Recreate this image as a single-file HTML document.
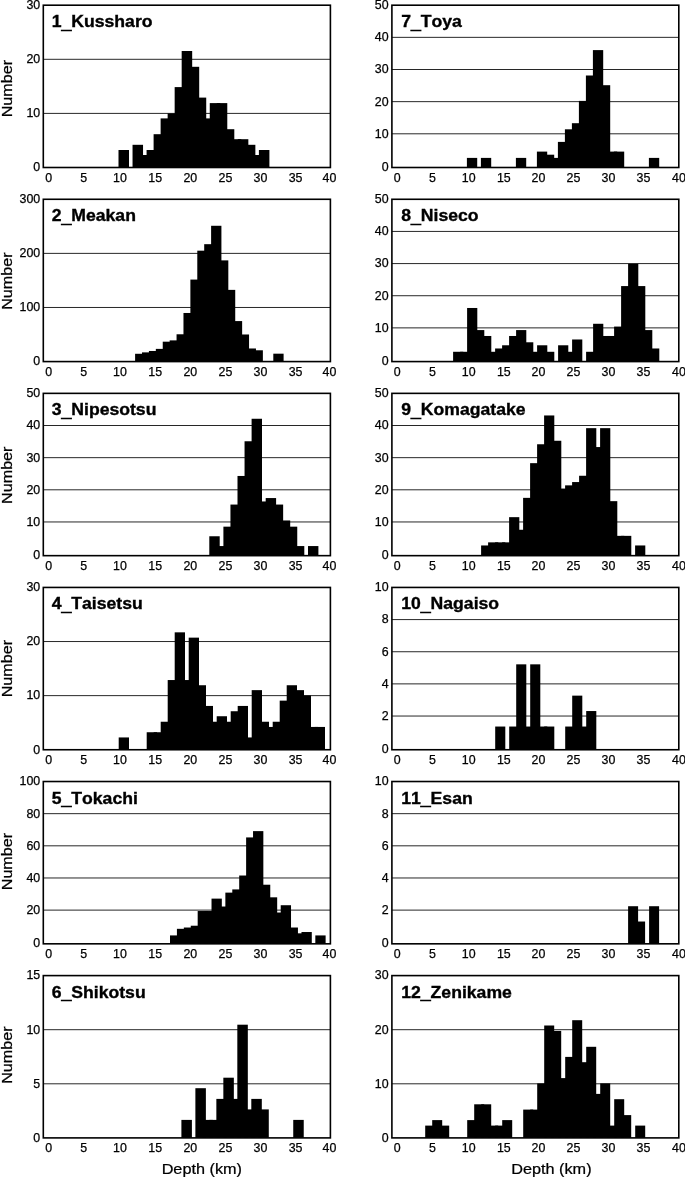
<!DOCTYPE html>
<html lang="en"><head><meta charset="utf-8"><title>Depth histograms</title>
<style>html,body{margin:0;padding:0;background:#fff;overflow:hidden}svg{display:block}text{font-family:"Liberation Sans",sans-serif;fill:#000;font-kerning:none;stroke:#000;stroke-width:0.25px}.t{font-size:12.4px}.ti{font-size:16.65px;font-weight:bold;stroke-width:0.35px}.l{font-size:15.6px}.f{fill:none;stroke:#000;stroke-width:1.6}.g{stroke:#000;stroke-width:0.85}</style></head><body>
<svg width="685" height="1178" viewBox="0 0 685 1178">
<rect width="685" height="1178" fill="#fff"/>
<g>
<line class="g" x1="43.30" x2="330.40" y1="113.40" y2="113.40"/>
<line class="g" x1="43.30" x2="330.40" y1="59.30" y2="59.30"/>
<rect x="118.50" y="150.00" width="10.50" height="17.50"/>
<rect x="132.54" y="144.80" width="10.50" height="22.70"/>
<rect x="139.56" y="155.00" width="10.50" height="12.50"/>
<rect x="146.58" y="150.00" width="10.50" height="17.50"/>
<rect x="153.60" y="134.20" width="10.50" height="33.30"/>
<rect x="160.62" y="118.40" width="10.50" height="49.10"/>
<rect x="167.64" y="113.40" width="10.50" height="54.10"/>
<rect x="174.66" y="87.10" width="10.50" height="80.40"/>
<rect x="181.68" y="51.00" width="10.50" height="116.50"/>
<rect x="188.70" y="66.80" width="10.50" height="100.70"/>
<rect x="195.72" y="97.60" width="10.50" height="69.90"/>
<rect x="202.74" y="118.40" width="10.50" height="49.10"/>
<rect x="209.76" y="103.10" width="10.50" height="64.40"/>
<rect x="216.78" y="103.10" width="10.50" height="64.40"/>
<rect x="223.80" y="129.20" width="10.50" height="38.30"/>
<rect x="230.82" y="139.20" width="10.50" height="28.30"/>
<rect x="237.84" y="139.20" width="10.50" height="28.30"/>
<rect x="244.86" y="144.80" width="10.50" height="22.70"/>
<rect x="251.88" y="155.00" width="10.50" height="12.50"/>
<rect x="258.90" y="150.00" width="10.50" height="17.50"/>
<rect class="f" x="43.30" y="5.20" width="287.10" height="162.30"/>
<text class="t" text-anchor="end" x="40.20" y="171.35">0</text>
<text class="t" text-anchor="end" x="40.20" y="117.25">10</text>
<text class="t" text-anchor="end" x="40.20" y="63.15">20</text>
<text class="t" text-anchor="end" x="40.20" y="9.05">30</text>
<text class="t" text-anchor="middle" x="48.60" y="181.80">0</text>
<text class="t" text-anchor="middle" x="83.70" y="181.80">5</text>
<text class="t" text-anchor="middle" x="120.00" y="181.80">10</text>
<text class="t" text-anchor="middle" x="155.20" y="181.80">15</text>
<text class="t" text-anchor="middle" x="190.30" y="181.80">20</text>
<text class="t" text-anchor="middle" x="225.40" y="181.80">25</text>
<text class="t" text-anchor="middle" x="260.50" y="181.80">30</text>
<text class="t" text-anchor="middle" x="295.60" y="181.80">35</text>
<text class="t" text-anchor="middle" x="329.40" y="181.80">40</text>
<text class="ti" transform="translate(51.70 27.20) scale(1.059 1)">1<tspan dy="1.4" style="stroke-width:0.9px">_</tspan><tspan dy="-1.4">Kussharo</tspan></text>
<text class="l" style="font-size:15.2px" text-anchor="middle" transform="translate(12.1 88.65) rotate(-90) scale(1.062 1)">Number</text>
</g>
<g>
<line class="g" x1="43.30" x2="330.40" y1="307.48" y2="307.48"/>
<line class="g" x1="43.30" x2="330.40" y1="253.38" y2="253.38"/>
<rect x="135.10" y="353.78" width="10.30" height="7.80"/>
<rect x="142.01" y="352.38" width="10.30" height="9.20"/>
<rect x="148.92" y="350.98" width="10.30" height="10.60"/>
<rect x="155.83" y="348.88" width="10.30" height="12.70"/>
<rect x="162.74" y="341.68" width="10.30" height="19.90"/>
<rect x="169.65" y="340.38" width="10.30" height="21.20"/>
<rect x="176.56" y="334.28" width="10.30" height="27.30"/>
<rect x="183.47" y="312.98" width="10.30" height="48.60"/>
<rect x="190.38" y="279.58" width="10.30" height="82.00"/>
<rect x="197.29" y="250.68" width="10.30" height="110.90"/>
<rect x="204.20" y="244.18" width="10.30" height="117.40"/>
<rect x="211.11" y="225.78" width="10.30" height="135.80"/>
<rect x="218.02" y="260.38" width="10.30" height="101.20"/>
<rect x="224.93" y="289.88" width="10.30" height="71.70"/>
<rect x="231.84" y="321.08" width="10.30" height="40.50"/>
<rect x="238.75" y="334.48" width="10.30" height="27.10"/>
<rect x="245.66" y="348.48" width="10.30" height="13.10"/>
<rect x="252.57" y="350.28" width="10.30" height="11.30"/>
<rect x="273.30" y="353.68" width="10.30" height="7.90"/>
<rect class="f" x="43.30" y="199.28" width="287.10" height="162.30"/>
<text class="t" text-anchor="end" x="40.20" y="365.43">0</text>
<text class="t" text-anchor="end" x="40.20" y="311.33">100</text>
<text class="t" text-anchor="end" x="40.20" y="257.23">200</text>
<text class="t" text-anchor="end" x="40.20" y="203.13">300</text>
<text class="t" text-anchor="middle" x="48.60" y="375.88">0</text>
<text class="t" text-anchor="middle" x="83.70" y="375.88">5</text>
<text class="t" text-anchor="middle" x="120.00" y="375.88">10</text>
<text class="t" text-anchor="middle" x="155.20" y="375.88">15</text>
<text class="t" text-anchor="middle" x="190.30" y="375.88">20</text>
<text class="t" text-anchor="middle" x="225.40" y="375.88">25</text>
<text class="t" text-anchor="middle" x="260.50" y="375.88">30</text>
<text class="t" text-anchor="middle" x="295.60" y="375.88">35</text>
<text class="t" text-anchor="middle" x="329.40" y="375.88">40</text>
<text class="ti" transform="translate(51.70 221.28) scale(1.059 1)">2<tspan dy="1.4" style="stroke-width:0.9px">_</tspan><tspan dy="-1.4">Meakan</tspan></text>
<text class="l" style="font-size:15.2px" text-anchor="middle" transform="translate(12.1 281.13) rotate(-90) scale(1.062 1)">Number</text>
</g>
<g>
<line class="g" x1="43.30" x2="330.40" y1="521.96" y2="521.96"/>
<line class="g" x1="43.30" x2="330.40" y1="489.81" y2="489.81"/>
<line class="g" x1="43.30" x2="330.40" y1="457.66" y2="457.66"/>
<line class="g" x1="43.30" x2="330.40" y1="425.51" y2="425.51"/>
<rect x="209.30" y="536.26" width="10.40" height="19.40"/>
<rect x="216.35" y="546.06" width="10.40" height="9.60"/>
<rect x="223.40" y="526.66" width="10.40" height="29.00"/>
<rect x="230.45" y="504.56" width="10.40" height="51.10"/>
<rect x="237.50" y="475.96" width="10.40" height="79.70"/>
<rect x="244.55" y="441.26" width="10.40" height="114.40"/>
<rect x="251.60" y="418.76" width="10.40" height="136.90"/>
<rect x="258.65" y="501.46" width="10.40" height="54.20"/>
<rect x="265.70" y="498.06" width="10.40" height="57.60"/>
<rect x="272.75" y="504.56" width="10.40" height="51.10"/>
<rect x="279.80" y="520.46" width="10.40" height="35.20"/>
<rect x="286.85" y="526.66" width="10.40" height="29.00"/>
<rect x="293.90" y="546.06" width="10.40" height="9.60"/>
<rect x="308.00" y="546.06" width="10.40" height="9.60"/>
<rect class="f" x="43.30" y="393.36" width="287.10" height="162.30"/>
<text class="t" text-anchor="end" x="40.20" y="558.91">0</text>
<text class="t" text-anchor="end" x="40.20" y="525.81">10</text>
<text class="t" text-anchor="end" x="40.20" y="493.66">20</text>
<text class="t" text-anchor="end" x="40.20" y="461.51">30</text>
<text class="t" text-anchor="end" x="40.20" y="429.36">40</text>
<text class="t" text-anchor="end" x="40.20" y="397.21">50</text>
<text class="t" text-anchor="middle" x="48.60" y="569.96">0</text>
<text class="t" text-anchor="middle" x="83.70" y="569.96">5</text>
<text class="t" text-anchor="middle" x="120.00" y="569.96">10</text>
<text class="t" text-anchor="middle" x="155.20" y="569.96">15</text>
<text class="t" text-anchor="middle" x="190.30" y="569.96">20</text>
<text class="t" text-anchor="middle" x="225.40" y="569.96">25</text>
<text class="t" text-anchor="middle" x="260.50" y="569.96">30</text>
<text class="t" text-anchor="middle" x="295.60" y="569.96">35</text>
<text class="t" text-anchor="middle" x="329.40" y="569.96">40</text>
<text class="ti" transform="translate(51.70 415.36) scale(1.059 1)">3<tspan dy="1.4" style="stroke-width:0.9px">_</tspan><tspan dy="-1.4">Nipesotsu</tspan></text>
<text class="l" style="font-size:15.2px" text-anchor="middle" transform="translate(12.1 475.21) rotate(-90) scale(1.062 1)">Number</text>
</g>
<g>
<line class="g" x1="43.30" x2="330.40" y1="695.64" y2="695.64"/>
<line class="g" x1="43.30" x2="330.40" y1="641.54" y2="641.54"/>
<rect x="118.70" y="737.44" width="10.30" height="12.30"/>
<rect x="146.70" y="732.24" width="10.30" height="17.50"/>
<rect x="153.70" y="732.24" width="10.30" height="17.50"/>
<rect x="160.70" y="721.74" width="10.30" height="28.00"/>
<rect x="167.70" y="680.04" width="10.30" height="69.70"/>
<rect x="174.70" y="632.34" width="10.30" height="117.40"/>
<rect x="181.70" y="680.04" width="10.30" height="69.70"/>
<rect x="188.70" y="637.64" width="10.30" height="112.10"/>
<rect x="195.70" y="685.24" width="10.30" height="64.50"/>
<rect x="202.70" y="705.94" width="10.30" height="43.80"/>
<rect x="209.70" y="721.74" width="10.30" height="28.00"/>
<rect x="216.70" y="716.24" width="10.30" height="33.50"/>
<rect x="223.70" y="721.74" width="10.30" height="28.00"/>
<rect x="230.70" y="711.24" width="10.30" height="38.50"/>
<rect x="237.70" y="705.94" width="10.30" height="43.80"/>
<rect x="244.70" y="737.44" width="10.30" height="12.30"/>
<rect x="251.70" y="690.14" width="10.30" height="59.60"/>
<rect x="258.70" y="721.74" width="10.30" height="28.00"/>
<rect x="265.70" y="726.94" width="10.30" height="22.80"/>
<rect x="272.70" y="721.74" width="10.30" height="28.00"/>
<rect x="279.70" y="700.64" width="10.30" height="49.10"/>
<rect x="286.70" y="685.24" width="10.30" height="64.50"/>
<rect x="293.70" y="690.14" width="10.30" height="59.60"/>
<rect x="300.70" y="695.44" width="10.30" height="54.30"/>
<rect x="307.70" y="726.94" width="10.30" height="22.80"/>
<rect x="314.70" y="726.94" width="10.30" height="22.80"/>
<rect class="f" x="43.30" y="587.44" width="287.10" height="162.30"/>
<text class="t" text-anchor="end" x="40.20" y="753.59">0</text>
<text class="t" text-anchor="end" x="40.20" y="699.49">10</text>
<text class="t" text-anchor="end" x="40.20" y="645.39">20</text>
<text class="t" text-anchor="end" x="40.20" y="591.29">30</text>
<text class="t" text-anchor="middle" x="48.60" y="764.04">0</text>
<text class="t" text-anchor="middle" x="83.70" y="764.04">5</text>
<text class="t" text-anchor="middle" x="120.00" y="764.04">10</text>
<text class="t" text-anchor="middle" x="155.20" y="764.04">15</text>
<text class="t" text-anchor="middle" x="190.30" y="764.04">20</text>
<text class="t" text-anchor="middle" x="225.40" y="764.04">25</text>
<text class="t" text-anchor="middle" x="260.50" y="764.04">30</text>
<text class="t" text-anchor="middle" x="295.60" y="764.04">35</text>
<text class="t" text-anchor="middle" x="329.40" y="764.04">40</text>
<text class="ti" transform="translate(51.70 609.44) scale(1.059 1)">4<tspan dy="1.4" style="stroke-width:0.9px">_</tspan><tspan dy="-1.4">Taisetsu</tspan></text>
<text class="l" style="font-size:15.2px" text-anchor="middle" transform="translate(12.1 668.64) rotate(-90) scale(1.062 1)">Number</text>
</g>
<g>
<line class="g" x1="43.30" x2="330.40" y1="910.12" y2="910.12"/>
<line class="g" x1="43.30" x2="330.40" y1="877.97" y2="877.97"/>
<line class="g" x1="43.30" x2="330.40" y1="845.82" y2="845.82"/>
<line class="g" x1="43.30" x2="330.40" y1="813.67" y2="813.67"/>
<rect x="170.00" y="935.42" width="10.30" height="8.40"/>
<rect x="176.92" y="928.82" width="10.30" height="15.00"/>
<rect x="183.84" y="927.52" width="10.30" height="16.30"/>
<rect x="190.76" y="925.72" width="10.30" height="18.10"/>
<rect x="197.68" y="911.02" width="10.30" height="32.80"/>
<rect x="204.60" y="911.02" width="10.30" height="32.80"/>
<rect x="211.52" y="898.62" width="10.30" height="45.20"/>
<rect x="218.44" y="906.52" width="10.30" height="37.30"/>
<rect x="225.36" y="892.62" width="10.30" height="51.20"/>
<rect x="232.28" y="889.42" width="10.30" height="54.40"/>
<rect x="239.20" y="875.52" width="10.30" height="68.30"/>
<rect x="246.12" y="837.42" width="10.30" height="106.40"/>
<rect x="253.04" y="831.12" width="10.30" height="112.70"/>
<rect x="259.96" y="884.72" width="10.30" height="59.10"/>
<rect x="266.88" y="897.32" width="10.30" height="46.50"/>
<rect x="273.80" y="912.52" width="10.30" height="31.30"/>
<rect x="280.72" y="905.22" width="10.30" height="38.60"/>
<rect x="287.64" y="927.52" width="10.30" height="16.30"/>
<rect x="294.56" y="933.32" width="10.30" height="10.50"/>
<rect x="301.48" y="932.02" width="10.30" height="11.80"/>
<rect x="315.32" y="935.42" width="10.30" height="8.40"/>
<rect class="f" x="43.30" y="781.52" width="287.10" height="162.30"/>
<text class="t" text-anchor="end" x="40.20" y="947.07">0</text>
<text class="t" text-anchor="end" x="40.20" y="913.97">20</text>
<text class="t" text-anchor="end" x="40.20" y="881.82">40</text>
<text class="t" text-anchor="end" x="40.20" y="849.67">60</text>
<text class="t" text-anchor="end" x="40.20" y="817.52">80</text>
<text class="t" text-anchor="end" x="40.20" y="785.37">100</text>
<text class="t" text-anchor="middle" x="48.60" y="958.12">0</text>
<text class="t" text-anchor="middle" x="83.70" y="958.12">5</text>
<text class="t" text-anchor="middle" x="120.00" y="958.12">10</text>
<text class="t" text-anchor="middle" x="155.20" y="958.12">15</text>
<text class="t" text-anchor="middle" x="190.30" y="958.12">20</text>
<text class="t" text-anchor="middle" x="225.40" y="958.12">25</text>
<text class="t" text-anchor="middle" x="260.50" y="958.12">30</text>
<text class="t" text-anchor="middle" x="295.60" y="958.12">35</text>
<text class="t" text-anchor="middle" x="329.40" y="958.12">40</text>
<text class="ti" transform="translate(51.70 803.52) scale(1.059 1)">5<tspan dy="1.4" style="stroke-width:0.9px">_</tspan><tspan dy="-1.4">Tokachi</tspan></text>
<text class="l" style="font-size:15.2px" text-anchor="middle" transform="translate(12.1 861.57) rotate(-90) scale(1.062 1)">Number</text>
</g>
<g>
<line class="g" x1="43.30" x2="330.40" y1="1083.80" y2="1083.80"/>
<line class="g" x1="43.30" x2="330.40" y1="1029.70" y2="1029.70"/>
<rect x="181.40" y="1119.90" width="10.50" height="18.00"/>
<rect x="195.38" y="1088.20" width="10.50" height="49.70"/>
<rect x="202.37" y="1119.90" width="10.50" height="18.00"/>
<rect x="209.36" y="1119.90" width="10.50" height="18.00"/>
<rect x="216.35" y="1098.90" width="10.50" height="39.00"/>
<rect x="223.34" y="1077.70" width="10.50" height="60.20"/>
<rect x="230.33" y="1098.90" width="10.50" height="39.00"/>
<rect x="237.32" y="1024.70" width="10.50" height="113.20"/>
<rect x="244.31" y="1109.40" width="10.50" height="28.50"/>
<rect x="251.30" y="1098.90" width="10.50" height="39.00"/>
<rect x="258.29" y="1109.40" width="10.50" height="28.50"/>
<rect x="293.24" y="1119.90" width="10.50" height="18.00"/>
<rect class="f" x="43.30" y="975.60" width="287.10" height="162.30"/>
<text class="t" text-anchor="end" x="40.20" y="1141.75">0</text>
<text class="t" text-anchor="end" x="40.20" y="1087.65">5</text>
<text class="t" text-anchor="end" x="40.20" y="1033.55">10</text>
<text class="t" text-anchor="end" x="40.20" y="979.45">15</text>
<text class="t" text-anchor="middle" x="48.60" y="1152.20">0</text>
<text class="t" text-anchor="middle" x="83.70" y="1152.20">5</text>
<text class="t" text-anchor="middle" x="120.00" y="1152.20">10</text>
<text class="t" text-anchor="middle" x="155.20" y="1152.20">15</text>
<text class="t" text-anchor="middle" x="190.30" y="1152.20">20</text>
<text class="t" text-anchor="middle" x="225.40" y="1152.20">25</text>
<text class="t" text-anchor="middle" x="260.50" y="1152.20">30</text>
<text class="t" text-anchor="middle" x="295.60" y="1152.20">35</text>
<text class="t" text-anchor="middle" x="329.40" y="1152.20">40</text>
<text class="ti" transform="translate(51.70 997.60) scale(1.059 1)">6<tspan dy="1.4" style="stroke-width:0.9px">_</tspan><tspan dy="-1.4">Shikotsu</tspan></text>
<text class="l" style="font-size:15.2px" text-anchor="middle" transform="translate(12.1 1055.10) rotate(-90) scale(1.062 1)">Number</text>
<text class="l" style="font-size:15.3px" text-anchor="middle" transform="translate(201.80 1174.0) scale(1.063 1)">Depth (km)</text>
</g>
<g>
<line class="g" x1="391.90" x2="678.80" y1="133.80" y2="133.80"/>
<line class="g" x1="391.90" x2="678.80" y1="101.65" y2="101.65"/>
<line class="g" x1="391.90" x2="678.80" y1="69.50" y2="69.50"/>
<line class="g" x1="391.90" x2="678.80" y1="37.35" y2="37.35"/>
<rect x="466.90" y="157.90" width="10.30" height="9.60"/>
<rect x="480.90" y="157.90" width="10.30" height="9.60"/>
<rect x="515.90" y="157.90" width="10.30" height="9.60"/>
<rect x="536.90" y="151.60" width="10.30" height="15.90"/>
<rect x="543.90" y="154.70" width="10.30" height="12.80"/>
<rect x="550.90" y="157.90" width="10.30" height="9.60"/>
<rect x="557.90" y="141.90" width="10.30" height="25.60"/>
<rect x="564.90" y="129.30" width="10.30" height="38.20"/>
<rect x="571.90" y="123.20" width="10.30" height="44.30"/>
<rect x="578.90" y="100.90" width="10.30" height="66.60"/>
<rect x="585.90" y="75.50" width="10.30" height="92.00"/>
<rect x="592.90" y="50.10" width="10.30" height="117.40"/>
<rect x="599.90" y="85.20" width="10.30" height="82.30"/>
<rect x="606.90" y="151.60" width="10.30" height="15.90"/>
<rect x="613.90" y="151.60" width="10.30" height="15.90"/>
<rect x="648.90" y="157.90" width="10.30" height="9.60"/>
<rect class="f" x="391.90" y="5.20" width="286.90" height="162.30"/>
<text class="t" text-anchor="end" x="388.60" y="170.75">0</text>
<text class="t" text-anchor="end" x="388.60" y="137.65">10</text>
<text class="t" text-anchor="end" x="388.60" y="105.50">20</text>
<text class="t" text-anchor="end" x="388.60" y="73.35">30</text>
<text class="t" text-anchor="end" x="388.60" y="41.20">40</text>
<text class="t" text-anchor="end" x="388.60" y="9.05">50</text>
<text class="t" text-anchor="middle" x="397.30" y="181.80">0</text>
<text class="t" text-anchor="middle" x="432.40" y="181.80">5</text>
<text class="t" text-anchor="middle" x="468.70" y="181.80">10</text>
<text class="t" text-anchor="middle" x="503.80" y="181.80">15</text>
<text class="t" text-anchor="middle" x="538.50" y="181.80">20</text>
<text class="t" text-anchor="middle" x="573.50" y="181.80">25</text>
<text class="t" text-anchor="middle" x="608.40" y="181.80">30</text>
<text class="t" text-anchor="middle" x="643.50" y="181.80">35</text>
<text class="t" text-anchor="middle" x="679.00" y="181.80">40</text>
<text class="ti" transform="translate(401.20 27.20) scale(1.059 1)">7<tspan dy="1.4" style="stroke-width:0.9px">_</tspan><tspan dy="-1.4">Toya</tspan></text>
</g>
<g>
<line class="g" x1="391.90" x2="678.80" y1="327.88" y2="327.88"/>
<line class="g" x1="391.90" x2="678.80" y1="295.73" y2="295.73"/>
<line class="g" x1="391.90" x2="678.80" y1="263.58" y2="263.58"/>
<line class="g" x1="391.90" x2="678.80" y1="231.43" y2="231.43"/>
<rect x="453.10" y="351.78" width="10.20" height="9.80"/>
<rect x="460.10" y="351.78" width="10.20" height="9.80"/>
<rect x="467.10" y="307.98" width="10.20" height="53.60"/>
<rect x="474.10" y="330.08" width="10.20" height="31.50"/>
<rect x="481.10" y="335.98" width="10.20" height="25.60"/>
<rect x="488.10" y="351.78" width="10.20" height="9.80"/>
<rect x="495.10" y="348.48" width="10.20" height="13.10"/>
<rect x="502.10" y="345.28" width="10.20" height="16.30"/>
<rect x="509.10" y="335.98" width="10.20" height="25.60"/>
<rect x="516.10" y="330.08" width="10.20" height="31.50"/>
<rect x="523.10" y="342.28" width="10.20" height="19.30"/>
<rect x="530.10" y="351.78" width="10.20" height="9.80"/>
<rect x="537.10" y="345.28" width="10.20" height="16.30"/>
<rect x="544.10" y="351.78" width="10.20" height="9.80"/>
<rect x="558.10" y="345.28" width="10.20" height="16.30"/>
<rect x="565.10" y="351.78" width="10.20" height="9.80"/>
<rect x="572.10" y="339.48" width="10.20" height="22.10"/>
<rect x="586.10" y="351.78" width="10.20" height="9.80"/>
<rect x="593.10" y="323.78" width="10.20" height="37.80"/>
<rect x="600.10" y="335.98" width="10.20" height="25.60"/>
<rect x="607.10" y="335.98" width="10.20" height="25.60"/>
<rect x="614.10" y="326.58" width="10.20" height="35.00"/>
<rect x="621.10" y="286.08" width="10.20" height="75.50"/>
<rect x="628.10" y="263.78" width="10.20" height="97.80"/>
<rect x="635.10" y="286.08" width="10.20" height="75.50"/>
<rect x="642.10" y="330.08" width="10.20" height="31.50"/>
<rect x="649.10" y="348.48" width="10.20" height="13.10"/>
<rect class="f" x="391.90" y="199.28" width="286.90" height="162.30"/>
<text class="t" text-anchor="end" x="388.60" y="364.83">0</text>
<text class="t" text-anchor="end" x="388.60" y="331.73">10</text>
<text class="t" text-anchor="end" x="388.60" y="299.58">20</text>
<text class="t" text-anchor="end" x="388.60" y="267.43">30</text>
<text class="t" text-anchor="end" x="388.60" y="235.28">40</text>
<text class="t" text-anchor="end" x="388.60" y="203.13">50</text>
<text class="t" text-anchor="middle" x="397.30" y="375.88">0</text>
<text class="t" text-anchor="middle" x="432.40" y="375.88">5</text>
<text class="t" text-anchor="middle" x="468.70" y="375.88">10</text>
<text class="t" text-anchor="middle" x="503.80" y="375.88">15</text>
<text class="t" text-anchor="middle" x="538.50" y="375.88">20</text>
<text class="t" text-anchor="middle" x="573.50" y="375.88">25</text>
<text class="t" text-anchor="middle" x="608.40" y="375.88">30</text>
<text class="t" text-anchor="middle" x="643.50" y="375.88">35</text>
<text class="t" text-anchor="middle" x="679.00" y="375.88">40</text>
<text class="ti" transform="translate(401.20 221.28) scale(1.059 1)">8<tspan dy="1.4" style="stroke-width:0.9px">_</tspan><tspan dy="-1.4">Niseco</tspan></text>
</g>
<g>
<line class="g" x1="391.90" x2="678.80" y1="521.96" y2="521.96"/>
<line class="g" x1="391.90" x2="678.80" y1="489.81" y2="489.81"/>
<line class="g" x1="391.90" x2="678.80" y1="457.66" y2="457.66"/>
<line class="g" x1="391.90" x2="678.80" y1="425.51" y2="425.51"/>
<rect x="481.10" y="545.46" width="10.20" height="10.20"/>
<rect x="488.10" y="542.36" width="10.20" height="13.30"/>
<rect x="495.10" y="542.36" width="10.20" height="13.30"/>
<rect x="502.10" y="542.36" width="10.20" height="13.30"/>
<rect x="509.10" y="517.16" width="10.20" height="38.50"/>
<rect x="516.10" y="529.76" width="10.20" height="25.90"/>
<rect x="523.10" y="497.86" width="10.20" height="57.80"/>
<rect x="530.10" y="463.16" width="10.20" height="92.50"/>
<rect x="537.10" y="444.26" width="10.20" height="111.40"/>
<rect x="544.10" y="415.46" width="10.20" height="140.20"/>
<rect x="551.10" y="440.76" width="10.20" height="114.90"/>
<rect x="558.10" y="488.56" width="10.20" height="67.10"/>
<rect x="565.10" y="485.36" width="10.20" height="70.30"/>
<rect x="572.10" y="482.06" width="10.20" height="73.60"/>
<rect x="579.10" y="475.76" width="10.20" height="79.90"/>
<rect x="586.10" y="428.16" width="10.20" height="127.50"/>
<rect x="593.10" y="447.06" width="10.20" height="108.60"/>
<rect x="600.10" y="428.16" width="10.20" height="127.50"/>
<rect x="607.10" y="501.16" width="10.20" height="54.50"/>
<rect x="614.10" y="535.86" width="10.20" height="19.80"/>
<rect x="621.10" y="535.86" width="10.20" height="19.80"/>
<rect x="635.10" y="545.46" width="10.20" height="10.20"/>
<rect class="f" x="391.90" y="393.36" width="286.90" height="162.30"/>
<text class="t" text-anchor="end" x="388.60" y="558.91">0</text>
<text class="t" text-anchor="end" x="388.60" y="525.81">10</text>
<text class="t" text-anchor="end" x="388.60" y="493.66">20</text>
<text class="t" text-anchor="end" x="388.60" y="461.51">30</text>
<text class="t" text-anchor="end" x="388.60" y="429.36">40</text>
<text class="t" text-anchor="end" x="388.60" y="397.21">50</text>
<text class="t" text-anchor="middle" x="397.30" y="569.96">0</text>
<text class="t" text-anchor="middle" x="432.40" y="569.96">5</text>
<text class="t" text-anchor="middle" x="468.70" y="569.96">10</text>
<text class="t" text-anchor="middle" x="503.80" y="569.96">15</text>
<text class="t" text-anchor="middle" x="538.50" y="569.96">20</text>
<text class="t" text-anchor="middle" x="573.50" y="569.96">25</text>
<text class="t" text-anchor="middle" x="608.40" y="569.96">30</text>
<text class="t" text-anchor="middle" x="643.50" y="569.96">35</text>
<text class="t" text-anchor="middle" x="679.00" y="569.96">40</text>
<text class="ti" transform="translate(401.20 415.36) scale(1.059 1)">9<tspan dy="1.4" style="stroke-width:0.9px">_</tspan><tspan dy="-1.4">Komagatake</tspan></text>
</g>
<g>
<line class="g" x1="391.90" x2="678.80" y1="716.04" y2="716.04"/>
<line class="g" x1="391.90" x2="678.80" y1="683.89" y2="683.89"/>
<line class="g" x1="391.90" x2="678.80" y1="651.74" y2="651.74"/>
<line class="g" x1="391.90" x2="678.80" y1="619.59" y2="619.59"/>
<rect x="495.20" y="726.54" width="10.10" height="23.20"/>
<rect x="509.20" y="726.54" width="10.10" height="23.20"/>
<rect x="516.20" y="664.34" width="10.10" height="85.40"/>
<rect x="523.20" y="726.54" width="10.10" height="23.20"/>
<rect x="530.20" y="664.34" width="10.10" height="85.40"/>
<rect x="537.20" y="726.54" width="10.10" height="23.20"/>
<rect x="544.20" y="726.54" width="10.10" height="23.20"/>
<rect x="565.20" y="726.54" width="10.10" height="23.20"/>
<rect x="572.20" y="695.64" width="10.10" height="54.10"/>
<rect x="579.20" y="726.54" width="10.10" height="23.20"/>
<rect x="586.20" y="711.04" width="10.10" height="38.70"/>
<rect class="f" x="391.90" y="587.44" width="286.90" height="162.30"/>
<text class="t" text-anchor="end" x="388.60" y="752.99">0</text>
<text class="t" text-anchor="end" x="388.60" y="719.89">2</text>
<text class="t" text-anchor="end" x="388.60" y="687.74">4</text>
<text class="t" text-anchor="end" x="388.60" y="655.59">6</text>
<text class="t" text-anchor="end" x="388.60" y="623.44">8</text>
<text class="t" text-anchor="end" x="388.60" y="591.29">10</text>
<text class="t" text-anchor="middle" x="397.30" y="764.04">0</text>
<text class="t" text-anchor="middle" x="432.40" y="764.04">5</text>
<text class="t" text-anchor="middle" x="468.70" y="764.04">10</text>
<text class="t" text-anchor="middle" x="503.80" y="764.04">15</text>
<text class="t" text-anchor="middle" x="538.50" y="764.04">20</text>
<text class="t" text-anchor="middle" x="573.50" y="764.04">25</text>
<text class="t" text-anchor="middle" x="608.40" y="764.04">30</text>
<text class="t" text-anchor="middle" x="643.50" y="764.04">35</text>
<text class="t" text-anchor="middle" x="679.00" y="764.04">40</text>
<text class="ti" transform="translate(401.20 609.44) scale(1.059 1)">10<tspan dy="1.4" style="stroke-width:0.9px">_</tspan><tspan dy="-1.4">Nagaiso</tspan></text>
</g>
<g>
<line class="g" x1="391.90" x2="678.80" y1="910.12" y2="910.12"/>
<line class="g" x1="391.90" x2="678.80" y1="877.97" y2="877.97"/>
<line class="g" x1="391.90" x2="678.80" y1="845.82" y2="845.82"/>
<line class="g" x1="391.90" x2="678.80" y1="813.67" y2="813.67"/>
<rect x="628.10" y="906.22" width="10.00" height="37.60"/>
<rect x="635.10" y="921.52" width="10.00" height="22.30"/>
<rect x="649.10" y="906.22" width="10.00" height="37.60"/>
<rect class="f" x="391.90" y="781.52" width="286.90" height="162.30"/>
<text class="t" text-anchor="end" x="388.60" y="947.07">0</text>
<text class="t" text-anchor="end" x="388.60" y="913.97">2</text>
<text class="t" text-anchor="end" x="388.60" y="881.82">4</text>
<text class="t" text-anchor="end" x="388.60" y="849.67">6</text>
<text class="t" text-anchor="end" x="388.60" y="817.52">8</text>
<text class="t" text-anchor="end" x="388.60" y="785.37">10</text>
<text class="t" text-anchor="middle" x="397.30" y="958.12">0</text>
<text class="t" text-anchor="middle" x="432.40" y="958.12">5</text>
<text class="t" text-anchor="middle" x="468.70" y="958.12">10</text>
<text class="t" text-anchor="middle" x="503.80" y="958.12">15</text>
<text class="t" text-anchor="middle" x="538.50" y="958.12">20</text>
<text class="t" text-anchor="middle" x="573.50" y="958.12">25</text>
<text class="t" text-anchor="middle" x="608.40" y="958.12">30</text>
<text class="t" text-anchor="middle" x="643.50" y="958.12">35</text>
<text class="t" text-anchor="middle" x="679.00" y="958.12">40</text>
<text class="ti" transform="translate(401.20 803.52) scale(1.059 1)">11<tspan dy="1.4" style="stroke-width:0.9px">_</tspan><tspan dy="-1.4">Esan</tspan></text>
</g>
<g>
<line class="g" x1="391.90" x2="678.80" y1="1083.80" y2="1083.80"/>
<line class="g" x1="391.90" x2="678.80" y1="1029.70" y2="1029.70"/>
<rect x="425.20" y="1125.60" width="10.00" height="12.30"/>
<rect x="432.20" y="1120.10" width="10.00" height="17.80"/>
<rect x="439.20" y="1125.60" width="10.00" height="12.30"/>
<rect x="467.20" y="1120.10" width="10.00" height="17.80"/>
<rect x="474.20" y="1104.30" width="10.00" height="33.60"/>
<rect x="481.20" y="1104.30" width="10.00" height="33.60"/>
<rect x="488.20" y="1125.60" width="10.00" height="12.30"/>
<rect x="495.20" y="1125.60" width="10.00" height="12.30"/>
<rect x="502.20" y="1120.10" width="10.00" height="17.80"/>
<rect x="523.20" y="1109.60" width="10.00" height="28.30"/>
<rect x="530.20" y="1109.60" width="10.00" height="28.30"/>
<rect x="537.20" y="1083.40" width="10.00" height="54.50"/>
<rect x="544.20" y="1025.50" width="10.00" height="112.40"/>
<rect x="551.20" y="1030.90" width="10.00" height="107.00"/>
<rect x="558.20" y="1078.10" width="10.00" height="59.80"/>
<rect x="565.20" y="1056.90" width="10.00" height="81.00"/>
<rect x="572.20" y="1020.20" width="10.00" height="117.70"/>
<rect x="579.20" y="1062.20" width="10.00" height="75.70"/>
<rect x="586.20" y="1046.80" width="10.00" height="91.10"/>
<rect x="593.20" y="1093.90" width="10.00" height="44.00"/>
<rect x="600.20" y="1083.40" width="10.00" height="54.50"/>
<rect x="607.20" y="1125.60" width="10.00" height="12.30"/>
<rect x="614.20" y="1099.20" width="10.00" height="38.70"/>
<rect x="621.20" y="1115.10" width="10.00" height="22.80"/>
<rect x="635.20" y="1125.60" width="10.00" height="12.30"/>
<rect class="f" x="391.90" y="975.60" width="286.90" height="162.30"/>
<text class="t" text-anchor="end" x="388.60" y="1141.75">0</text>
<text class="t" text-anchor="end" x="388.60" y="1087.65">10</text>
<text class="t" text-anchor="end" x="388.60" y="1033.55">20</text>
<text class="t" text-anchor="end" x="388.60" y="979.45">30</text>
<text class="t" text-anchor="middle" x="397.30" y="1152.20">0</text>
<text class="t" text-anchor="middle" x="432.40" y="1152.20">5</text>
<text class="t" text-anchor="middle" x="468.70" y="1152.20">10</text>
<text class="t" text-anchor="middle" x="503.80" y="1152.20">15</text>
<text class="t" text-anchor="middle" x="538.50" y="1152.20">20</text>
<text class="t" text-anchor="middle" x="573.50" y="1152.20">25</text>
<text class="t" text-anchor="middle" x="608.40" y="1152.20">30</text>
<text class="t" text-anchor="middle" x="643.50" y="1152.20">35</text>
<text class="t" text-anchor="middle" x="679.00" y="1152.20">40</text>
<text class="ti" transform="translate(401.20 997.60) scale(1.059 1)">12<tspan dy="1.4" style="stroke-width:0.9px">_</tspan><tspan dy="-1.4">Zenikame</tspan></text>
<text class="l" style="font-size:15.3px" text-anchor="middle" transform="translate(551.40 1174.0) scale(1.063 1)">Depth (km)</text>
</g>
</svg></body></html>
